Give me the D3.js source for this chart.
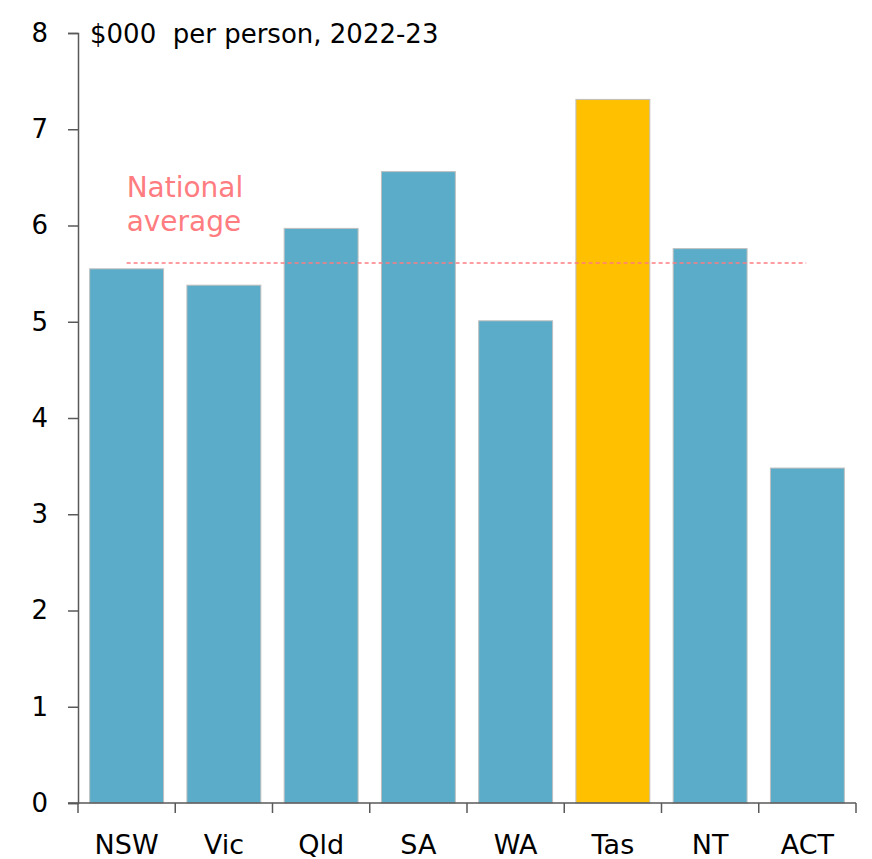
<!DOCTYPE html>
<html>
<head>
<meta charset="utf-8">
<script src="https://cdn.jsdelivr.net/npm/d3@7"></script>
<style>
  body { margin: 0; background: #fff; }
  text { font-family: "DejaVu Sans", sans-serif; }
</style>
</head>
<body>
<div class="chart"></div>
<script>
const states = ["NSW", "Vic", "Qld", "SA", "WA", "Tas", "NT", "ACT"];
const values = [5.55, 5.38, 5.97, 6.56, 5.01, 7.31, 5.76, 3.48];
const highlight = ["Tas"];
const nationalAverage = 5.61;
const yTicks = [0, 1, 2, 3, 4, 5, 6, 7, 8];

const width = 872, height = 859;
const margin = {top: 33, right: 16, bottom: 56, left: 78};
const font = '"DejaVu Sans", sans-serif';

const svg = d3.select(".chart").append("svg")
    .attr("width", width)
    .attr("height", height);

const x = d3.scaleBand()
    .domain(states)
    .range([margin.left, width - margin.right])
    .paddingInner(0.24)
    .paddingOuter(0.12);

const y = d3.scaleLinear()
    .domain([0, 8])
    .range([height - margin.bottom, margin.top]);

const data = states.map((s, i) => ({state: s, value: values[i]}));

// bars
svg.selectAll("rect.bar")
    .data(data)
    .join("rect")
    .attr("class", "bar")
    .attr("x", d => x(d.state))
    .attr("width", x.bandwidth())
    .attr("y", d => y(d.value))
    .attr("height", d => y(0) - y(d.value))
    .style("fill", d => highlight.includes(d.state) ? "#FFC000" : "#5BACC8")
    .style("stroke", "#BFBFBF")
    .style("stroke-width", 1);

// national average line
const xStart = x("NSW") + x.bandwidth() * 0.5;
const xEnd = x("NT") + x.bandwidth() * 1.8;
svg.append("line")
    .attr("x1", xStart)
    .attr("x2", xEnd)
    .attr("y1", y(nationalAverage))
    .attr("y2", y(nationalAverage))
    .style("stroke", "#FF7C80")
    .style("stroke-width", 1.5)
    .style("stroke-dasharray", "4,3");

svg.append("text")
    .attr("x", xStart)
    .attr("y", y(nationalAverage) - 66)
    .style("fill", "#FF7C80")
    .style("font-size", "28px")
    .text("National");
svg.append("text")
    .attr("x", xStart)
    .attr("y", y(nationalAverage) - 32)
    .style("fill", "#FF7C80")
    .style("font-size", "28px")
    .text("average");

// axes
const yAxis = svg.append("g")
    .attr("transform", `translate(${margin.left},0)`)
    .call(d3.axisLeft(y).tickValues(yTicks).tickSize(10).tickPadding(20));

const xAxis = svg.append("g")
    .attr("transform", `translate(0,${y(0)})`)
    .call(d3.axisBottom(x).tickSize(0).tickPadding(32));

// ticks at band boundaries
const step = x.step();
const edges = d3.range(states.length + 1).map(i => x.range()[0] + i * step);
xAxis.selectAll("line.edge")
    .data(edges)
    .join("line")
    .attr("class", "edge")
    .attr("x1", d => d).attr("x2", d => d)
    .attr("y1", 0).attr("y2", 10)
    .style("stroke", "#595959")
    .style("stroke-width", 1.5);

xAxis.select(".domain").attr("d", `M${margin.left - 10},0H${width - margin.right}`);

[yAxis, xAxis].forEach(g => {
    g.select(".domain").style("stroke", "#595959").style("stroke-width", 1.5);
    g.selectAll(".tick line").style("stroke", "#595959").style("stroke-width", 1.5);
    g.selectAll(".tick text").style("font-size", "26px").style("fill", "#000")
        .style("font-family", font);
});
xAxis.selectAll(".tick text").style("font-size", "27px");

// units label
svg.append("text")
    .attr("x", margin.left + 12)
    .attr("y", y(8) + 10)
    .style("font-size", "26px")
    .style("white-space", "pre")
    .style("fill", "#000")
    .text("$000  per person, 2022-23");
</script>
</body>
</html>
